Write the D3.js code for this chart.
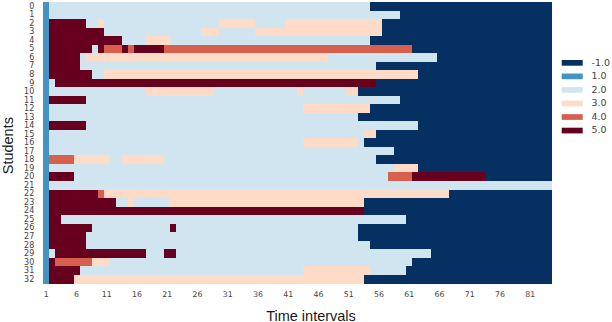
<!DOCTYPE html>
<html>
<head>
<meta charset="utf-8">
<script src="https://cdn.jsdelivr.net/npm/d3@7"></script>
<style>
  html, body { margin: 0; padding: 0; background: #fff; }
  svg { display: block; }
</style>
</head>
<body>
<svg id="chart" width="612" height="322"></svg>
<script>
// ---- data ----
const students = d3.range(0, 33);            // row labels 0..32
const nIntervals = 84;                        // time intervals 1..84
const xTickLabels = [1, 6, 11, 16, 21, 26, 31, 36, 41, 46, 51, 56, 61, 66, 71, 76, 81];
const levels = [-1, 1, 2, 3, 4, 5];
const levelLabels = ["-1.0", "1.0", "2.0", "3.0", "4.0", "5.0"];
const levelColors = ["#053061", "#4393c3", "#d1e5f0", "#fddbc7", "#d6604d", "#67001f"];

// run-length encoded rows: [value, number of consecutive intervals]
const runs = [
  [[1,1],[2,53],[-1,30]],
  [[1,1],[2,58],[-1,25]],
  [[1,1],[5,6],[2,2],[3,1],[2,19],[3,6],[2,5],[3,16],[-1,28]],
  [[1,1],[5,9],[2,16],[3,3],[2,6],[3,21],[-1,28]],
  [[1,1],[5,12],[2,4],[3,4],[2,33],[-1,30]],
  [[1,1],[5,7],[2,1],[5,1],[4,3],[5,1],[4,1],[5,5],[4,41],[-1,23]],
  [[1,1],[5,5],[2,1],[3,40],[2,18],[-1,19]],
  [[1,1],[5,5],[2,49],[-1,29]],
  [[1,1],[5,7],[2,2],[3,52],[-1,22]],
  [[1,1],[2,1],[5,53],[-1,29]],
  [[1,1],[2,16],[3,11],[2,14],[3,1],[2,7],[3,2],[-1,32]],
  [[1,1],[5,6],[2,52],[-1,25]],
  [[1,1],[2,42],[3,11],[-1,30]],
  [[1,1],[2,51],[-1,32]],
  [[1,1],[5,6],[2,55],[-1,22]],
  [[1,1],[2,52],[3,2],[-1,29]],
  [[1,1],[2,42],[3,9],[2,1],[-1,31]],
  [[1,1],[2,57],[-1,26]],
  [[1,1],[4,4],[3,6],[2,2],[3,7],[2,35],[-1,29]],
  [[1,1],[2,57],[3,4],[-1,22]],
  [[1,1],[5,4],[2,52],[4,4],[5,12],[-1,11]],
  [[1,1],[2,83]],
  [[1,1],[5,8],[4,1],[3,57],[-1,17]],
  [[1,1],[5,11],[2,2],[3,1],[2,6],[3,32],[-1,31]],
  [[1,1],[5,52],[-1,31]],
  [[1,1],[5,2],[2,57],[-1,24]],
  [[1,1],[5,7],[2,13],[5,1],[2,30],[-1,32]],
  [[1,1],[5,6],[2,45],[-1,32]],
  [[1,1],[5,6],[2,47],[-1,30]],
  [[1,1],[2,1],[5,15],[2,3],[5,2],[2,42],[-1,20]],
  [[1,1],[5,1],[4,6],[3,3],[2,50],[-1,23]],
  [[1,1],[5,5],[2,37],[3,11],[2,6],[-1,24]],
  [[1,1],[5,4],[3,48],[-1,31]]
];

// expand runs into cells
const cells = [];
runs.forEach((row, si) => {
  let t = 1;
  row.forEach(([v, n]) => {
    for (let k = 0; k < n; k++) { cells.push({ student: students[si], t: t, v: v }); t++; }
  });
});

// ---- layout ----
const svg = d3.select("#chart");
const pLeft = 43.3, pRight = 551.5, pTop = 2, pBottom = 283.3;

const x = d3.scaleBand().domain(d3.range(1, nIntervals + 1)).range([pLeft, pRight]).padding(0);
const y = d3.scaleBand().domain(students).range([pTop, pBottom]).padding(0);
const color = d3.scaleOrdinal().domain(levels).range(levelColors);

svg.append("g")
  .attr("shape-rendering", "crispEdges")
  .selectAll("rect")
  .data(cells)
  .join("rect")
  .attr("x", d => x(d.t))
  .attr("y", d => y(d.student))
  .attr("width", x.bandwidth() + 0.5)
  .attr("height", y.bandwidth() + 0.5)
  .attr("fill", d => color(d.v));

// x axis
const xAxis = svg.append("g")
  .attr("transform", `translate(0,${pBottom + 4})`)
  .call(d3.axisBottom(x).tickValues(xTickLabels).tickSize(0).tickPadding(4));
xAxis.select(".domain").remove();
xAxis.selectAll("text")
  .attr("font-family", "DejaVu Sans")
  .attr("font-size", 7.8)
  .attr("fill", "#444");

// y axis
const yAxis = svg.append("g")
  .attr("transform", `translate(${pLeft - 9},0)`)
  .call(d3.axisLeft(y).tickSize(0).tickPadding(0));
yAxis.select(".domain").remove();
yAxis.selectAll("text")
  .attr("font-family", "DejaVu Sans")
  .attr("font-size", 8)
  .attr("fill", "#444");

// axis titles
svg.append("text")
  .attr("x", 311)
  .attr("y", 320.5)
  .attr("text-anchor", "middle")
  .attr("font-family", "Liberation Sans")
  .attr("font-size", 14.5)
  .attr("fill", "#1a1a1a")
  .text("Time intervals");

svg.append("text")
  .attr("transform", `translate(12.5,${(pTop + pBottom) / 2 + 3}) rotate(-90)`)
  .attr("text-anchor", "middle")
  .attr("font-family", "Liberation Sans")
  .attr("font-size", 14.5)
  .attr("fill", "#1a1a1a")
  .text("Students");

// legend
const legY = d3.scalePoint().domain(levels).range([60, 127.7]);
const leg = svg.append("g");
leg.selectAll("rect")
  .data(levels)
  .join("rect")
  .attr("x", 561.7)
  .attr("y", d => legY(d))
  .attr("width", 21)
  .attr("height", 5.7)
  .attr("fill", d => color(d));
leg.selectAll("text")
  .data(levels)
  .join("text")
  .attr("x", 591.5)
  .attr("y", d => legY(d) + 5.8)
  .attr("font-family", "DejaVu Sans")
  .attr("font-size", 8.2)
  .attr("fill", "#444")
  .attr("transform", `translate(${591.5 * -0.15},0) scale(1.15,1)`)
  .text((d, i) => levelLabels[i]);
</script>
</body>
</html>
